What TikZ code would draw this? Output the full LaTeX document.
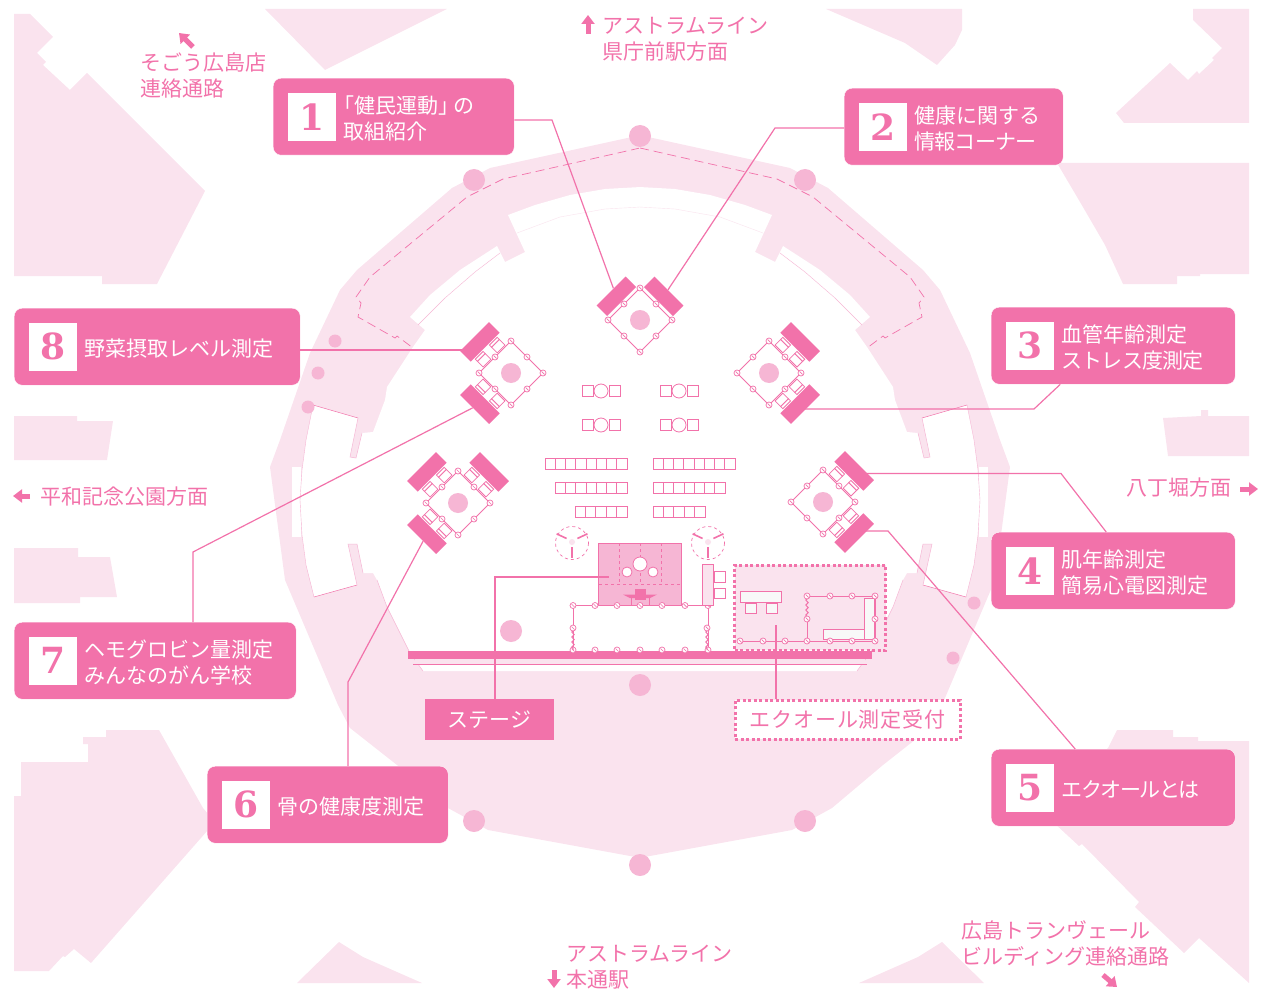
\documentclass[tikz,border=0pt]{standalone}
\usepackage{fontspec}
\usepackage{xcolor}
\newfontfamily\cjk{Noto Sans CJK JP}
\newfontfamily\numfont{DejaVu Serif}
\usetikzlibrary{positioning,calc,arrows.meta,decorations.pathmorphing}
\definecolor{hotpink}{HTML}{F272AA}
\definecolor{midpink}{HTML}{F6B6D4}
\definecolor{palepink}{HTML}{FAE3EE}
\definecolor{tablegray}{HTML}{F8F8F8}
\tikzset{
  callbox/.style  = {draw=white, fill=hotpink, rounded corners=8pt, anchor=north west,
                     minimum height=77pt, inner sep=0pt},
  numbox/.style   = {fill=white, text=hotpink, minimum size=48pt, inner sep=0pt,
                     font=\numfont\bfseries\fontsize{36}{36}\selectfont},
  calltext/.style = {text=white, align=left, inner sep=0pt, yshift=-1.5pt,
                     font=\cjk\fontsize{21}{26}\selectfont},
  dirtext/.style  = {text=hotpink, align=left, inner sep=0pt, anchor=west, yshift=-1pt,
                     font=\cjk\fontsize{21}{26}\selectfont},
  barbox/.style   = {fill=hotpink, minimum width=41pt, minimum height=15pt, inner sep=0pt},
  pale/.style     = {fill=palepink},
  spot/.style     = {fill=midpink},
  linkline/.style = {draw=hotpink, line width=1.2pt},
  wall/.style     = {draw=hotpink, line width=1pt},
  thinwall/.style = {draw=hotpink, line width=0.7pt},
  seat/.style     = {draw=hotpink, line width=0.8pt, fill=white},
  table/.style    = {draw=hotpink, line width=1pt, fill=tablegray},
  wavy/.style     = {draw=hotpink, line width=1pt, decorate,
                     decoration={snake, amplitude=1.2pt, segment length=5pt}},
  dotted edge/.style = {draw=hotpink, line width=3pt, dash pattern=on 3pt off 2.5pt},
  dirarrow/.style = {-{Triangle[length=9pt,width=13pt]}, draw=hotpink, line width=5pt}
}
\newcommand{\track}[1]{\addfontfeature{LetterSpace=#1}}
\newcommand{\callout}[5]{
  \node[callbox, minimum width=#4pt] (box#1) at (#2,#3) {};
  \node[numbox, right=15pt of box#1.west] (num#1) {#1};
  \node[calltext, right=7pt of num#1] (text#1) {#5};
}
\newcommand{\knot}[2]{
  \draw[thinwall, fill=white] (#1,#2) circle (3);
  \draw[thinwall] (#1-1.5,#2-1.5) -- (#1+1.5,#2+1.5);
}
\newcommand{\boothframe}[2]{
  \begin{scope}[shift={(#1,#2)}]
    \draw[wall] (0,-32) -- (32,0) -- (0,32) -- (-32,0) -- cycle;
    \fill[spot] (0,0) circle (10);
    \foreach \kx/\ky in {0/-32,16/-16,32/0,16/16,0/32,-16/16,-32/0,-16/-16} {
      \knot{\kx}{\ky}
    }
  \end{scope}
}
% one bar of a booth, with chairs when the distance is the long one
\newcommand{\boothbar}[5]{
  \node[barbox, rotate=#4-90] (#1) at ([shift={(#4:#5pt)}]#2,#3) {};
  \ifdim#5pt>40pt
    \begin{scope}[shift={(#2,#3)}, rotate=#4]
      \foreach \t in {-10,10} {
        \draw[seat] (24,\t-5.5) rectangle (32,\t+5.5);
        \draw[seat] (32,\t-5.5) rectangle (35,\t+5.5);
      }
    \end{scope}
  \fi
}
% square, round table, square
\newcommand{\seatrow}[2]{
  \draw[seat] (#1-19,#2-5.5) rectangle (#1-8,#2+5.5);
  \draw[seat] (#1,#2) circle (7);
  \draw[seat] (#1+8,#2-5.5) rectangle (#1+19,#2+5.5);
}
\newcommand{\tablerow}[4]{
  \foreach \c in {1,...,#3} {
    \draw[seat] (#1+#4*\c-#4,#2-5.5) rectangle (#1+#4*\c,#2+5.5);
  }
}
\begin{document}
\begin{tikzpicture}[x=1pt,y=-1pt]
  \useasboundingbox (0,0) rectangle (1265,992);

  % buildings round the square
  \fill[pale] (14,14) -- (30,14) -- (53,37) -- (37,53) -- (46,62) -- (43,65) -- (70,90) -- (87,73)
    -- (205,191) -- (157,284) -- (102,284) -- (102,276) -- (14,276) -- cycle;
  \fill[pale] (265,9) -- (447,9) -- (325,70) -- cycle;
  \fill[pale] (826,9) -- (962,9) -- (962,30) -- (955,45) -- (937,65) -- (905,43) -- cycle;
  \fill[pale] (1193,9) -- (1249,9) -- (1249,123) -- (1124,123) -- (1116,113) -- (1170,63) -- (1188,80)
    -- (1197,71) -- (1199,74) -- (1214,60) -- (1212,58) -- (1222,48) -- (1193,20) -- cycle;
  \fill[pale] (1057,163) -- (1249,163) -- (1249,274) -- (1200,274) -- (1200,276) -- (1177,276)
    -- (1177,284) -- (1123,284) -- (1105,245) -- (1080,202) -- cycle;
  \fill[pale] (14,416) -- (77,416) -- (77,421) -- (113,421) -- (107,460) -- (14,460) -- cycle;
  \fill[pale] (14,548) -- (78,548) -- (78,557) -- (110,557) -- (117,597) -- (80,597) -- (80,603) -- (14,603) -- cycle;
  \fill[pale] (1163,418) -- (1201,416) -- (1201,410) -- (1208,410) -- (1208,416) -- (1249,416)
    -- (1249,456) -- (1168,456) -- cycle;
  \fill[pale] (14,796) -- (21,796) -- (21,762) -- (88,762) -- (88,744) -- (83,744) -- (83,737) -- (106,737)
    -- (106,730) -- (159,730) -- (203,808) -- (215,822) -- (91,963) -- (74,949) -- (65,957) -- (63,956)
    -- (49,971) -- (14,971) -- cycle;
  \fill[pale] (297,983) -- (339,942) -- (363,957) -- (422,983) -- cycle;
  \fill[pale] (859,983) -- (918,957) -- (942,942) -- (984,983) -- cycle;
  \fill[pale] (1117,730) -- (1173,730) -- (1173,737) -- (1198,737) -- (1198,741) -- (1249,741) -- (1249,983)
    -- (1199,938) -- (1184,953) -- (1135,907) -- (1139,902) -- (1082,844) -- (1079,846) -- (1040,810)
    -- (1108,748) -- cycle;

  % the hall, left half and its mirror image
  \foreach \m/\sh in {1/0pt,-1/1280pt} {
    \begin{scope}[cm={\m,0,0,1,(\sh,0pt)}]
      \fill[pale] (641,135) -- (490,168) -- (452,188) -- (357,270) -- (340,290) -- (310,353) -- (280,440)
        -- (270,467) -- (285,580) -- (338,705) -- (350,728) -- (397,765) -- (448,808) -- (488,830)
        -- (641,858) -- cycle;
      \fill[white] (641,187) -- (605,189) -- (570,195) -- (535,205) -- (508,215) -- (525,252) -- (505,262)
        -- (497,246) -- (460,270) -- (430,295) -- (410,317) -- (425,330) -- (413,347) -- (387,387)
        -- (385,400) -- (373,432) -- (362,433) -- (356,458) -- (350,457) -- (358,418) -- (313,405)
        -- (306,440) -- (302,470) -- (300,500) -- (302,535) -- (306,565) -- (314,597) -- (357,585)
        -- (348,544) -- (357,544) -- (363,573) -- (373,573) -- (377,580) -- (387,607) -- (410,653)
        -- (423,671) -- (641,671) -- cycle;
      \fill[white] (292,467) rectangle (301,537);
      \draw[draw=midpink, line width=0.4pt] (418,325) -- (445,298) -- (475,272) -- (500,253);
      \draw[draw=palepink, line width=0.4pt] (517,233) -- (560,217) -- (605,209) -- (641,207);
      \draw[draw=midpink, line width=0.4pt] (313,405) -- (306,440) -- (302,470) -- (300,500) -- (302,535)
        -- (306,565) -- (314,597);
      \draw[draw=hotpink, line width=0.5pt] (313,405) -- (358,418);
      \draw[draw=hotpink, line width=0.5pt] (314,597) -- (357,585);
      \draw[draw=midpink, line width=0.5pt] (358,418) -- (350,457) -- (356,458) -- (362,433);
      \draw[draw=midpink, line width=0.5pt] (357,585) -- (348,544) -- (357,544) -- (363,573);
      \draw[draw=midpink, line width=0.5pt] (377,580) -- (387,607) -- (410,653) -- (423,671);
      \draw[thinwall, dash pattern=on 9pt off 5pt] (640,148) -- (503,179) -- (467,197) -- (370,277) -- (356,297)
        -- (361,303) -- (358,317) -- (395,338) -- (397,336) -- (413,348);
    \end{scope}
  }
  \fill[pale] (415,658) rectangle (865,664);
  \fill[hotpink] (408,650.5) rectangle (872,658.5);
  \draw[thinwall] (413,664.5) -- (867,664.5);

  % pillars
  \foreach \px/\py in {640/136,474/180,805/180,474/821,805/821,640/865,640/685,511/631} {
    \fill[spot] (\px,\py) circle (11);
  }
  \foreach \px/\py in {335/341,318/373,308/407,974/603,953/658} {
    \fill[spot] (\px,\py) circle (6.5);
  }

  % seats and tables
  \foreach \sx in {601,679} {
    \seatrow{\sx}{391}
    \seatrow{\sx}{425}
  }
  \tablerow{545}{463.5}{8}{10.25}
  \tablerow{653}{463.5}{8}{10.25}
  \tablerow{555}{487.5}{7}{10.3}
  \tablerow{653}{487.5}{7}{10.3}
  \tablerow{575}{511.5}{5}{10.4}
  \tablerow{653}{511.5}{5}{10.4}

  % stage
  \node[draw=hotpink, fill=midpink, line width=1pt, minimum width=83pt, minimum height=62pt, inner sep=0pt] (stagearea) at (640,574) {};
  \foreach \sx in {619,640,661} {
    \draw[thinwall, dashed] (\sx,543) -- (\sx,584);
  }
  \draw[thinwall, dashed] (599,584) -- (681,584);
  \draw[seat] (640,564) circle (7);
  \draw[seat] (627,572) circle (5);
  \draw[seat] (653,572) circle (5);
  \fill[hotpink] (635,589) rectangle (646,600);
  \fill[hotpink] (623,594.5) -- (657,594.5) -- (650,598) -- (630,598) -- cycle;
  \draw[thinwall] (631,595) -- (631,605);
  \draw[thinwall] (649,595) -- (649,605);
  \draw[wall] (573,650) -- (573,605.5) -- (708,605.5) -- (708,650);
  \foreach \kx in {573,595,617,640,662,685,708} {
    \knot{\kx}{605.5}
    \knot{\kx}{650}
  }
  \draw[wavy] (573,628) -- (573,650);
  \draw[wavy] (707,628) -- (707,650);
  \knot{573}{628}
  \knot{707}{628}
  \draw[draw=hotpink, fill=palepink, line width=1pt] (702,564) rectangle (713,605);
  \draw[seat] (714,571) rectangle (725,582);
  \draw[seat] (714,588) rectangle (725,598);

  % fans
  \foreach \fx in {572,708} {
    \draw[thinwall, dashed] (\fx,543) circle (16.5);
    \foreach \fa in {155,25,270} {
      \draw[thinwall, line width=1.6pt] ([shift={(\fa:6pt)}]\fx,541) -- ([shift={(\fa:17pt)}]\fx,541);
    }
    \fill[palepink] (\fx,542) circle (3);
  }

  % reception
  \node[dotted edge, fill=palepink, minimum width=151pt, minimum height=85pt, inner sep=0pt] (recarea) at (810,607.5) {};
  \draw[table] (740,591) rectangle (781,602);
  \draw[table] (745,603) rectangle (756,613);
  \draw[table] (766,603) rectangle (777,613);
  \draw[wall] (807,619) -- (807,641);
  \draw[wall] (807,596) -- (875,596) -- (875,641);
  \draw[wall] (740,641) -- (875,641);
  \draw[wavy] (807,596) -- (807,619);
  \draw[table] (864,598) rectangle (874,639);
  \draw[table] (823,629) rectangle (864,639);
  \foreach \kx in {807,830,852,875} {
    \knot{\kx}{596}
  }
  \foreach \kx in {740,763,785,807,830,852,875} {
    \knot{\kx}{641}
  }
  \knot{807}{619}
  \knot{875}{619}

  % booths
  \boothframe{640}{320}
  \boothbar{bara}{640}{320}{135}{33.5}
  \boothbar{barb}{640}{320}{45}{33.5}
  \boothframe{769}{373}
  \boothbar{barc}{769}{373}{-45}{44}
  \boothbar{barh}{769}{373}{45}{44}
  \boothframe{823}{502}
  \boothbar{bard}{823}{502}{45}{44}
  \boothbar{bare}{823}{502}{-45}{44}
  \boothframe{511}{373}
  \boothbar{barg}{511}{373}{-135}{44}
  \boothbar{barj}{511}{373}{135}{44}
  \boothframe{458}{503}
  \boothbar{barf}{458}{503}{-135}{44}
  \boothbar{bark}{458}{503}{135}{44}
  \boothbar{barm}{458}{503}{45}{44}

  % numbered panels
  \callout{1}{273}{78}{241}{\hspace*{-10pt}「健民運動」\kern-6pt の\\取組紹介}
  \callout{2}{844}{88}{219}{健康に関する\\{\track{-4}情報コーナー}}
  \callout{3}{991}{307}{244}{血管年齢測定\\{\track{-4}ストレス度測定}}
  \callout{4}{991}{532}{244}{肌年齢測定\\簡易心電図測定}
  \callout{5}{991}{749}{244}{{\track{-7}エクオールとは}}
  \callout{6}{207}{766}{241}{骨の健康度測定}
  \callout{7}{14}{622}{282}{ヘモグロビン量測定\\みんなのがん学校}
  \callout{8}{14}{308}{286}{野菜摂取レベル測定}

  \node[fill=hotpink, text=white, minimum width=129pt, minimum height=41pt, inner sep=0pt, font=\cjk\fontsize{21}{26}\selectfont] (stagelabel) at (489.5,719.5) {ステージ};
  \node[dotted edge, fill=white, text=hotpink, minimum width=225pt, minimum height=39pt, inner sep=0pt, font=\cjk\fontsize{21}{26}\selectfont] (reclabel) at (847.5,719.5) {{\track{4}エクオール測定受付}};

  % connectors
  \coordinate (elbow1) at (552,120);
  \coordinate (elbow2) at (775,128);
  \coordinate (elbow3) at (1034,409);
  \coordinate (elbow4) at (1061,473.5);
  \coordinate (elbow5) at (888,531);
  \coordinate (elbow6) at (348,682);
  \coordinate (elbow7) at (193,552);
  \coordinate (elbow8) at (400,350);
  \coordinate (elbows) at (495,577);
  \coordinate (elbowr) at (776,625);
  \draw[linkline] (box1.east |- elbow1) -- (elbow1) -- (bara);
  \draw[linkline] (box2.west |- elbow2) -- (elbow2) -- (barb);
  \draw[linkline] ($(box3.south)+(-53,0)$) -- (elbow3) -- (elbow3 -| barc.center);
  \draw[linkline] ($(box4.north)+(-7,0)$) -- (elbow4) -- (elbow4 -| bard.center);
  \draw[linkline] ($(box5.north)+(-38,0)$) -- (elbow5) -- (elbow5 -| bare.center);
  \draw[linkline] (box6.north -| elbow6) -- (elbow6) -- (barf);
  \draw[linkline] (box7.north -| elbow7) -- (elbow7) -- (barg);
  \draw[linkline] (box8.east |- elbow8) -- (elbow8 -| barj.center);
  \draw[linkline] (stagelabel.north -| elbows) -- (elbows) -- ++(114,0);
  \draw[linkline] (reclabel.north -| elbowr) -- (elbowr);

  % directions
  \node[dirtext] (dirsogo) at (140,75) {そごう広島店\\連絡通路};
  \node[dirtext] (dirnorth) at (602,38) {アストラムライン\\県庁前駅方面};
  \node[dirtext] (dirwest) at (40,496) {平和記念公園方面};
  \node[dirtext] (direast) at (1126,487) {八丁堀方面};
  \node[dirtext] (dirsouth) at (566,966) {アストラムライン\\本通駅};
  \node[dirtext] (dirtrans) at (961,942) {広島トランヴェール\\ビルディング連絡通路};
  \foreach \n/\ax/\ay/\bx/\by in {a/193/47/179/33,b/588/34/588/15,c/30/496/13/496,d/1240/489/1258/489,e/554/970/554/988,f/1103/975/1117/987} {
    \coordinate (tail\n) at (\ax,\ay);
    \coordinate (tip\n) at (\bx,\by);
    \draw[dirarrow] (tail\n) -- (tip\n);
  }
\end{tikzpicture}
\end{document}
